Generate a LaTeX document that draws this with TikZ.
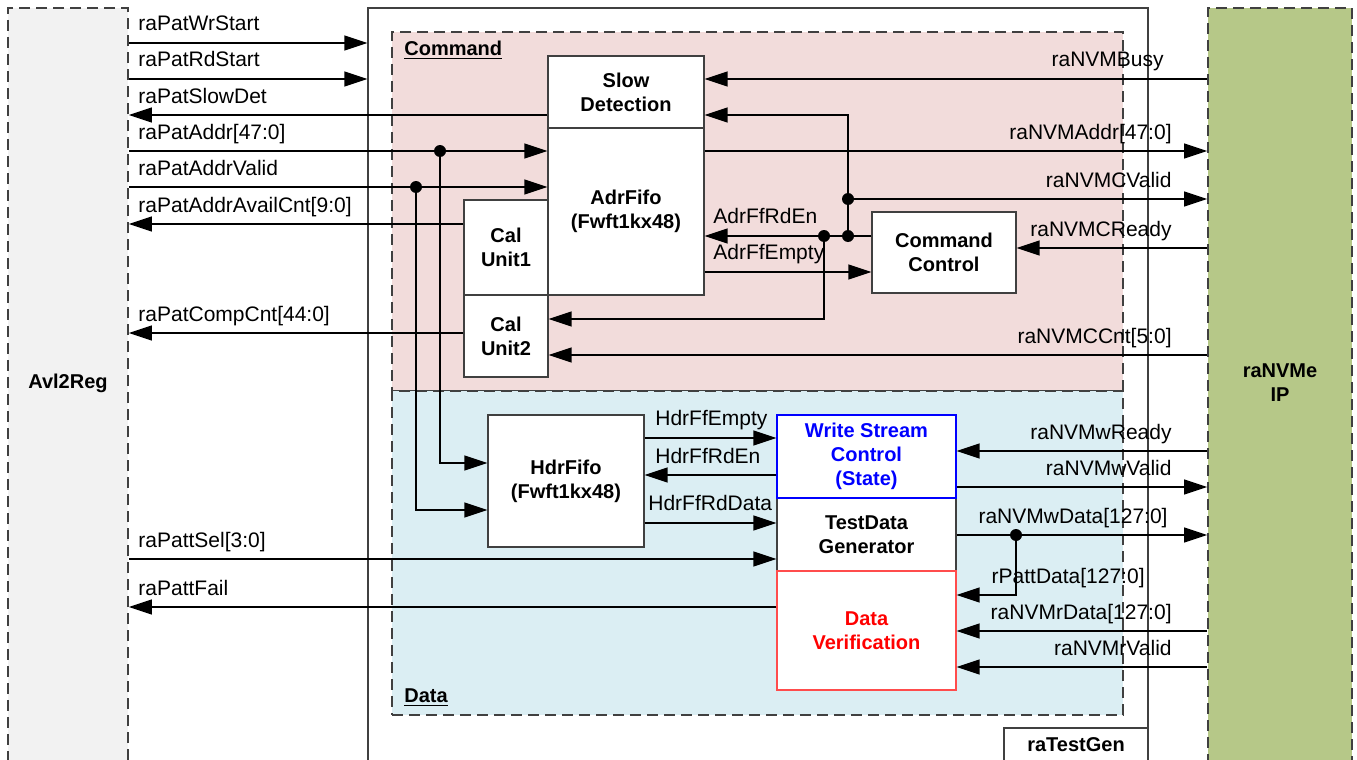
\documentclass[tikz,border=0pt]{standalone}
\usepackage{fontspec}
\setmainfont{Liberation Sans}
\usetikzlibrary{arrows.meta}
\definecolor{cmdpink}{RGB}{242,220,219}
\definecolor{datblue}{RGB}{219,238,243}
\definecolor{avlgray}{RGB}{242,242,242}
\definecolor{ipgreen}{RGB}{182,200,136}
\definecolor{edgegray}{RGB}{64,64,64}
\tikzset{
  sig/.style={-{Triangle[length=11.5pt,width=7.5pt]},line width=0.65pt},
  blk/.style={draw=edgegray,fill=white,line width=0.6pt,align=center,font=\bfseries,inner sep=0pt},
  dashbox/.style={draw=edgegray,dash pattern=on 5.5pt off 3pt,line width=0.9pt,inner sep=0pt},
  lbl/.style={inner sep=0pt,anchor=base west},
  rlbl/.style={inner sep=0pt,anchor=base east}
}
\begin{document}
\begin{tikzpicture}[x=0.5pt,y=-0.5pt,font=\fontsize{10.5}{12.5}\selectfont]
\clip (0,0) rectangle (1357,760);
% outer blocks
\node[dashbox,fill=avlgray,minimum width=60pt,minimum height=384pt](avl) at (68,392){};
\node[font=\bfseries](avlname) at (68,383){Avl2Reg};
\node[dashbox,fill=ipgreen,minimum width=72pt,minimum height=384pt](nvme) at (1280,392){};
\node[font=\bfseries,align=center](nvmename) at (1280,383){raNVMe\\IP};
\node[draw=edgegray,line width=0.6pt,minimum width=390pt,minimum height=384pt,inner sep=0pt](tgen) at (758,392){};
\node[draw=edgegray,line width=0.6pt,minimum width=72pt,minimum height=30pt,inner sep=0pt](tgenbox) at (1076,758){};
\node[font=\bfseries](tgenname) at (1076,745){raTestGen};

% command and data parts
\node[dashbox,fill=cmdpink,minimum width=365.5pt,minimum height=179.5pt](cmd) at (757.5,211.5){};
\node[dashbox,fill=datblue,minimum width=365.5pt,minimum height=162pt](dat) at (757.5,553){};
\node[lbl,font=\bfseries](cmdname) at (404,55){\underline{Command}};
\node[lbl,font=\bfseries](datname) at (404,702){\underline{Data}};

% inner blocks
\node[blk,minimum width=78pt,minimum height=36pt](slow) at (626,92){Slow\\Detection};
\node[blk,minimum width=78pt,minimum height=83.5pt](afifo) at (626,211.5){AdrFifo\\(Fwft1kx48)};
\node[blk,minimum width=42pt,minimum height=47.5pt](cal1) at (506,247.5){Cal\\Unit1};
\node[blk,minimum width=42pt,minimum height=41pt](cal2) at (506,336){Cal\\Unit2};
\node[blk,minimum width=72pt,minimum height=40.5pt](cmdctl) at (944,252.5){Command\\Control};
\node[blk,minimum width=78pt,minimum height=66pt](hfifo) at (566,481){HdrFifo\\(Fwft1kx48)};
\node[blk,minimum width=89.5pt,minimum height=36.5pt](tdg) at (866.5,534.5){TestData\\Generator};
\node[blk,draw=blue,text=blue,minimum width=89.5pt,minimum height=41.5pt](wsc) at (866.5,456.5){Write Stream\\Control\\(State)};
\node[blk,draw=red!70,text=red,minimum width=89.5pt,minimum height=59.5pt](dver) at (866.5,630.5){Data\\Verification};

% labels, Avl2Reg side
\node[lbl](lwrst) at (138,31){raPatWrStart};
\node[lbl](lrdst) at (138,67){raPatRdStart};
\node[lbl](lslow) at (138,103){raPatSlowDet};
\node[lbl](laddr) at (138,139){raPatAddr[47:0]};
\node[lbl](lvalid) at (138,175){raPatAddrValid};
\node[lbl](lavail) at (138,212){raPatAddrAvailCnt[9:0]};
\node[lbl](lcomp) at (138,321){raPatCompCnt[44:0]};
\node[lbl](lsel) at (138,547){raPattSel[3:0]};
\node[lbl](lfail) at (138,595){raPattFail};
% labels, raNVMe side
\node[rlbl](lbusy) at (1164,67){raNVMBusy};
\node[rlbl](lnaddr) at (1172,139){raNVMAddr[47:0]};
\node[rlbl](lcvalid) at (1172,187){raNVMCValid};
\node[rlbl](lcready) at (1172,236){raNVMCReady};
\node[rlbl](lccnt) at (1172,343){raNVMCCnt[5:0]};
\node[rlbl](lwready) at (1172,439){raNVMwReady};
\node[rlbl](lwvalid) at (1172,475){raNVMwValid};
\node[rlbl](lwdata) at (1168,523){raNVMwData[127:0]};
\node[rlbl](lpdata) at (1145,583){rPattData[127:0]};
\node[rlbl](lrdata) at (1172,619){raNVMrData[127:0]};
\node[rlbl](lrvalid) at (1172,655){raNVMrValid};
% labels, inside
\node[lbl](lrden) at (713,223){AdrFfRdEn};
\node[lbl](lempty) at (713,259){AdrFfEmpty};
\node[lbl](lhempty) at (655,425){HdrFfEmpty};
\node[lbl](lhrden) at (655,463){HdrFfRdEn};
\node[lbl](lhdata) at (648,510){HdrFfRdData};

% junctions
\coordinate (j1) at (440,151);
\coordinate (j2) at (416,187);
\coordinate (j3) at (848,199);
\coordinate (j4) at (848,236);
\coordinate (j5) at (824,236);
\coordinate (j6) at (1016,535);

% Avl2Reg signals
\draw[sig] (avl.east |- 0,43) -- (tgen.west |- 0,43);
\draw[sig] (avl.east |- 0,79) -- (tgen.west |- 0,79);
\draw[sig] (slow.west |- 0,115) -- (avl.east |- 0,115);
\draw[sig] (avl.east |- 0,151) -- (afifo.west |- 0,151);
\draw[sig] (avl.east |- 0,187) -- (afifo.west |- 0,187);
\draw[sig] (cal1.west |- 0,224) -- (avl.east |- 0,224);
\draw[sig] (cal2.west |- 0,333) -- (avl.east |- 0,333);
\draw[sig] (j1) |- (hfifo.west |- 0,463);
\draw[sig] (j2) |- (hfifo.west |- 0,510);
\draw[sig] (avl.east |- 0,559) -- (tdg.west |- 0,559);
\draw[sig] (dver.west |- 0,607) -- (avl.east |- 0,607);

% command signals
\draw[sig] (nvme.west |- 0,79) -- (slow.east |- 0,79);
\draw[sig] (j4) |- (slow.east |- 0,115);
\draw[sig] (afifo.east |- 0,151) -- (nvme.west |- 0,151);
\draw[sig] (j3) -- (nvme.west |- 0,199);
\draw[sig] (cmdctl.west |- 0,236) -- (afifo.east |- 0,236);
\draw[sig] (afifo.east |- 0,272) -- (cmdctl.west |- 0,272);
\draw[sig] (j5) |- (cal2.east |- 0,319);
\draw[sig] (nvme.west |- 0,248) -- (cmdctl.east |- 0,248);
\draw[sig] (nvme.west |- 0,355) -- (cal2.east |- 0,355);

% data signals
\draw[sig] (hfifo.east |- 0,438) -- (wsc.west |- 0,438);
\draw[sig] (wsc.west |- 0,475) -- (hfifo.east |- 0,475);
\draw[sig] (hfifo.east |- 0,523) -- (tdg.west |- 0,523);
\draw[sig] (nvme.west |- 0,451) -- (wsc.east |- 0,451);
\draw[sig] (wsc.east |- 0,487) -- (nvme.west |- 0,487);
\draw[sig] (tdg.east |- 0,535) -- (nvme.west |- 0,535);
\draw[sig] (j6) |- (dver.east |- 0,595);
\draw[sig] (nvme.west |- 0,631) -- (dver.east |- 0,631);
\draw[sig] (nvme.west |- 0,667) -- (dver.east |- 0,667);

\foreach \j in {j1,j2,j3,j4,j5,j6}
  \fill (\j) circle (3pt);
\end{tikzpicture}
\end{document}
